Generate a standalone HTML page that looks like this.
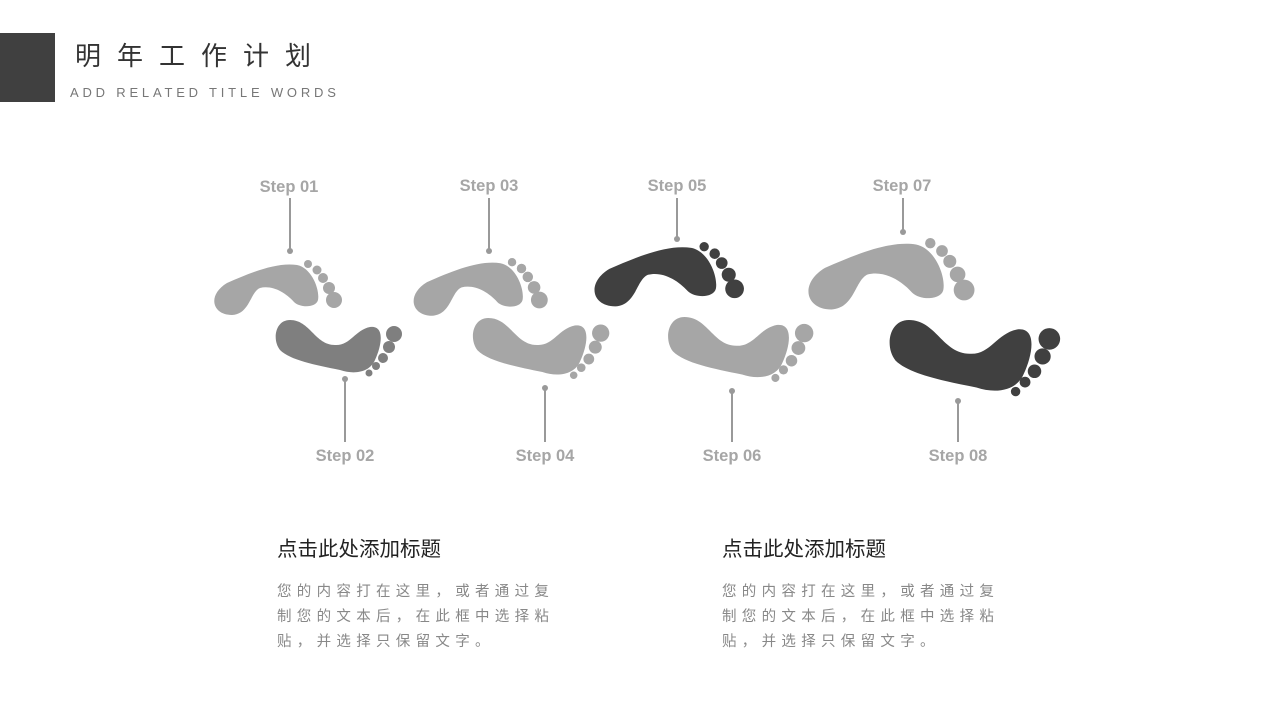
<!DOCTYPE html>
<html><head><meta charset="utf-8"><style>
body{margin:0;width:1280px;height:720px;background:#fff;position:relative;overflow:hidden;font-family:"Liberation Sans","Noto Sans CJK SC",sans-serif}
.t{position:absolute;white-space:nowrap}
</style></head><body>
<div style="position:absolute;left:0;top:33px;width:55px;height:69px;background:#404040"></div>
<div class="t" style="left:75px;top:36px;font-size:26px;letter-spacing:16px;color:#333">明年工作计划</div>
<div class="t" style="left:70px;top:85px;font-size:13px;letter-spacing:3.8px;color:#777">ADD RELATED TITLE WORDS</div>
<svg width="1280" height="720" style="position:absolute;left:0;top:0">
<defs>
<g id="top">
<path d="M230 315 C210 315 205 295 225 283 C250 272 275 262 295 265 C310 268 318 290 316 300 C314 308 298 308 292 302 C283 292 270 285 258 288 C248 292 248 314 230 315 Z"/>
<circle cx="306" cy="264" r="4"/><circle cx="315" cy="270" r="4.5"/><circle cx="321" cy="278" r="5"/><circle cx="327" cy="288" r="6"/><circle cx="332" cy="300" r="8"/>
</g>
<g id="bot">
<path d="M290 320 C310 320 315 345 335 345 C350 346 355 330 370 327 C385 325 382 345 375 360 C370 372 355 375 340 370 C315 365 290 360 280 350 C272 340 275 320 290 320 Z"/>
<circle cx="394" cy="334" r="8"/><circle cx="389" cy="347" r="6"/><circle cx="383" cy="358" r="5"/><circle cx="376" cy="366" r="4"/><circle cx="369" cy="373" r="3.5"/>
</g>
</defs>
<g fill="#a6a6a6"><use href="#top" transform="translate(207,260) scale(1) translate(-205,-260)"/></g>
<g fill="#7f7f7f"><use href="#bot" transform="translate(273,320) scale(1) translate(-273,-320)"/></g>
<g fill="#a6a6a6"><use href="#top" transform="translate(406,258) scale(1.05) translate(-205,-260)"/></g>
<g fill="#a6a6a6"><use href="#bot" transform="translate(470,318) scale(1.08) translate(-273,-320)"/></g>
<g fill="#404040"><use href="#top" transform="translate(586,242) scale(1.17) translate(-205,-260)"/></g>
<g fill="#a6a6a6"><use href="#bot" transform="translate(665,317) scale(1.15) translate(-273,-320)"/></g>
<g fill="#a6a6a6"><use href="#top" transform="translate(799,238) scale(1.3) translate(-205,-260)"/></g>
<g fill="#404040"><use href="#bot" transform="translate(886,320) scale(1.35) translate(-273,-320)"/></g>
<g stroke="#999" stroke-width="2" fill="#999">
<line x1="290" y1="198" x2="290" y2="251"/><circle cx="290" cy="251" r="3" stroke="none"/>
<line x1="489" y1="198" x2="489" y2="251"/><circle cx="489" cy="251" r="3" stroke="none"/>
<line x1="677" y1="198" x2="677" y2="239"/><circle cx="677" cy="239" r="3" stroke="none"/>
<line x1="903" y1="198" x2="903" y2="232"/><circle cx="903" cy="232" r="3" stroke="none"/>
<line x1="345" y1="379" x2="345" y2="442"/><circle cx="345" cy="379" r="3" stroke="none"/>
<line x1="545" y1="388" x2="545" y2="442"/><circle cx="545" cy="388" r="3" stroke="none"/>
<line x1="732" y1="391" x2="732" y2="442"/><circle cx="732" cy="391" r="3" stroke="none"/>
<line x1="958" y1="401" x2="958" y2="442"/><circle cx="958" cy="401" r="3" stroke="none"/>
</g>
<g font-family="Liberation Sans,sans-serif" font-weight="bold" font-size="16.5" fill="#a6a6a6" text-anchor="middle">
<text x="289" y="192">Step 01</text><text x="489" y="191">Step 03</text><text x="677" y="191">Step 05</text><text x="902" y="191">Step 07</text>
<text x="345" y="461">Step 02</text><text x="545" y="461">Step 04</text><text x="732" y="461">Step 06</text><text x="958" y="461">Step 08</text>
</g>
</svg>
<div class="t" style="left:277px;top:532px;font-size:20.5px;color:#222">点击此处添加标题</div>
<div class="t" style="left:277px;top:580px;font-size:14.5px;line-height:25px;letter-spacing:5.3px;color:#888">您的内容打在这里，或者通过复<br>制您的文本后，在此框中选择粘<br>贴，并选择只保留文字。</div>
<div class="t" style="left:722px;top:532px;font-size:20.5px;color:#222">点击此处添加标题</div>
<div class="t" style="left:722px;top:580px;font-size:14.5px;line-height:25px;letter-spacing:5.3px;color:#888">您的内容打在这里，或者通过复<br>制您的文本后，在此框中选择粘<br>贴，并选择只保留文字。</div>
</body></html>
